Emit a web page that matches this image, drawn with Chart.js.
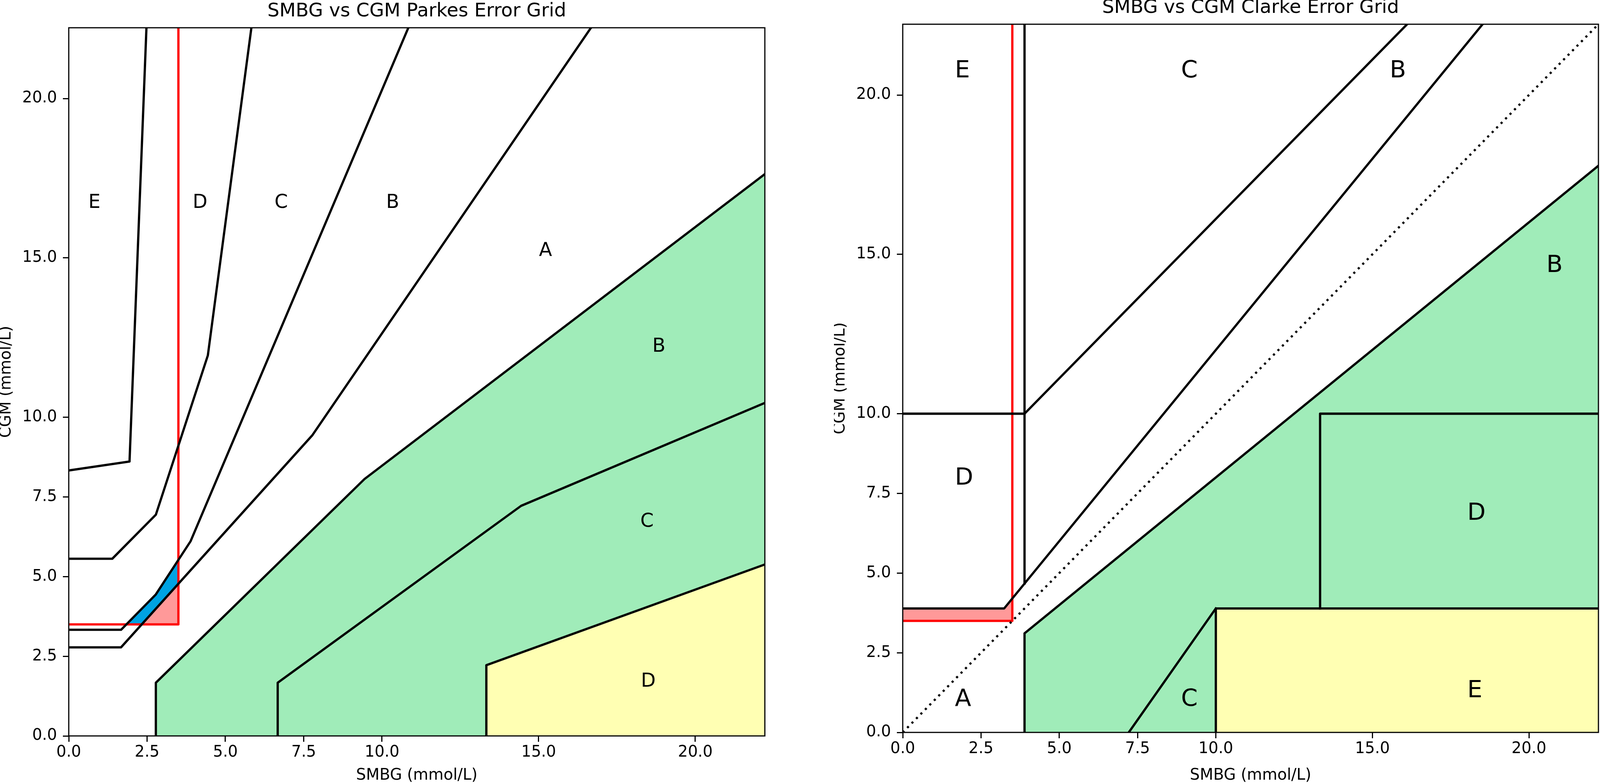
<!DOCTYPE html>
<html>
<head>
<meta charset="utf-8">
<script src="https://cdn.jsdelivr.net/npm/chart.js@4.4.1/dist/chart.umd.min.js"></script>
<style>
  html, body { margin: 0; padding: 0; background: #ffffff; overflow: hidden; }
  canvas { position: absolute; }
</style>
</head>
<body>
<canvas id="parkes"></canvas>
<canvas id="clarke"></canvas>
<script>
// ---------------- data (mmol/L) ----------------
const AXIS_MAX = 22.22;
const tickValues = [0, 2.5, 5, 7.5, 10, 15, 20];
const tickLabels = ['0.0', '2.5', '5.0', '7.5', '10.0', '15.0', '20.0'];

// Parkes error grid zone boundaries
const parkesDUpperX = [0, 1.94, 2.48];
const parkesDUpperY = [8.33, 8.61, 22.22];
const parkesCUpperX = [0, 1.39, 2.78, 4.44, 5.83];
const parkesCUpperY = [5.56, 5.56, 6.94, 11.94, 22.22];
const parkesBUpperX = [0, 1.67, 2.78, 3.89, 10.84];
const parkesBUpperY = [3.33, 3.33, 4.44, 6.11, 22.22];
const parkesAUpperX = [0, 1.67, 7.78, 16.67];
const parkesAUpperY = [2.78, 2.78, 9.44, 22.22];
const parkesALowerX = [2.78, 2.78, 9.44, 22.22];
const parkesALowerY = [0, 1.67, 8.06, 17.63];
const parkesBLowerX = [6.67, 6.67, 14.44, 22.22];
const parkesBLowerY = [0, 1.67, 7.22, 10.45];
const parkesCLowerX = [13.33, 13.33, 22.22];
const parkesCLowerY = [0, 2.22, 5.38];
// hypoglycaemia threshold (red) and highlighted areas
const hypoLineX = [0, 3.5, 3.5];
const hypoLineY = [3.5, 3.5, 22.22];
const hypoLevel = 3.5;
const parkesBlueX = [1.84, 2.78, 3.5];
const parkesBlueY = [3.5, 4.44, 5.52];
const parkesRedX = [2.33, 3.5];
const parkesRedY = [3.5, 4.78];
// Parkes zone labels (centres)
const parkesLabelText = ['E', 'D', 'C', 'B', 'A', 'B', 'C', 'D'];
const parkesLabelX = [0.82, 4.19, 6.78, 10.34, 15.22, 18.84, 18.46, 18.5];
const parkesLabelY = [16.72, 16.72, 16.72, 16.72, 15.22, 12.21, 6.72, 1.70];

// Clarke error grid zone boundaries
const clarkeUpperAX = [0, 3.24, 18.52];
const clarkeUpperAY = [3.89, 3.89, 22.22];
const clarkeUpperCX = [0, 3.89, 16.11];
const clarkeUpperCY = [10, 10, 22.22];
const clarkeVertX = [3.89, 3.89];
const clarkeVertY = [4.67, 22.22];
const clarkeLowerAX = [3.89, 3.89, 22.22];
const clarkeLowerAY = [0, 3.11, 17.78];
const clarkeLowerCX = [7.22, 10];
const clarkeLowerCY = [0, 3.89];
const clarkeZoneEX = [10, 10, 22.22];
const clarkeZoneEY = [0, 3.89, 3.89];
const clarkeZoneDX = [13.33, 13.33, 22.22];
const clarkeZoneDY = [3.89, 10, 10];
const clarkeIdentityX = [0, 22.22];
const clarkeIdentityY = [0, 22.22];
const clarkeRedX = [0, 3.24, 3.5];
const clarkeRedY = [3.89, 3.89, 4.2];
// Clarke zone labels (left / baseline anchors)
const clarkeLabelText = ['A', 'B', 'B', 'C', 'C', 'D', 'D', 'E', 'E'];
const clarkeLabelX = [1.667, 20.556, 15.556, 8.889, 8.889, 1.667, 18.03, 1.667, 18.03];
const clarkeLabelY = [0.833, 14.444, 20.556, 20.556, 0.833, 7.778, 6.667, 20.556, 1.10];

// ---------------- layout (fits the reference 4165 x 2006 frame into the real viewport) ----------------
const REF_W = 4165, REF_H = 2006;
const SX = Math.min(1, (window.innerWidth || REF_W) / REF_W);
const PAGE_W = Math.round(REF_W * SX);
document.body.style.width = PAGE_W + 'px';
document.body.style.height = REF_H + 'px';

const CANVAS_W = Math.round(1994 * SX);
const YBOX_W = Math.round(179 * SX);
const LEFT_PAD_RIGHT = Math.max(1, Math.round(3 * SX));
const RIGHT_PAD_RIGHT = Math.max(1, Math.round(4 * SX));
const CLARKE_LEFT = Math.round(2171 * SX);

function setupCanvas(id, left, top, w, h) {
  const c = document.getElementById(id);
  c.width = w; c.height = h;
  c.style.width = w + 'px'; c.style.height = h + 'px';
  c.style.left = left + 'px'; c.style.top = top + 'px';
  return c;
}
const parkesCanvas = setupCanvas('parkes', 0, 0, CANVAS_W, 2006);
const clarkeCanvas = setupCanvas('clarke', CLARKE_LEFT, -9, CANVAS_W, 2015);

// ---------------- styling ----------------
const FONT = '"DejaVu Sans", "Liberation Sans", sans-serif';
const LW = 5.8;
const GREEN = 'rgb(160,236,185)';
const YELLOW = 'rgb(255,255,179)';
const PINK = 'rgb(255,153,153)';
const BLUE = 'rgb(0,162,226)';
const RED = 'rgb(255,0,0)';
const NONE = 'rgba(0,0,0,0)';

Chart.defaults.font.family = FONT;
Chart.defaults.color = '#000';

const pts = (xs, ys) => xs.map((x, i) => ({ x: x, y: ys[i] }));

function lineDs(xs, ys, extra) {
  return Object.assign({
    data: pts(xs, ys),
    borderColor: '#000',
    backgroundColor: NONE,
    borderWidth: LW,
    borderJoinStyle: 'round',
    borderCapStyle: 'square',
    pointRadius: 0,
    pointHoverRadius: 0,
    fill: false,
    tension: 0,
    clip: 0
  }, extra || {});
}

const framePlugin = {
  id: 'frame',
  afterDatasetsDraw(chart) {
    const { ctx, chartArea: a } = chart;
    ctx.save();
    ctx.strokeStyle = '#000';
    ctx.lineWidth = 3;
    ctx.strokeRect(a.left, a.top, a.right - a.left, a.bottom - a.top);
    ctx.restore();
  }
};

function labelPlugin(texts, xs, ys, size, align, baseline) {
  return {
    id: 'zoneLabels',
    afterDatasetsDraw(chart) {
      const { ctx } = chart;
      const sx = chart.scales.x, sy = chart.scales.y;
      ctx.save();
      ctx.fillStyle = '#000';
      ctx.font = size + 'px ' + FONT;
      ctx.textAlign = align;
      ctx.textBaseline = baseline;
      texts.forEach((t, i) => ctx.fillText(t, sx.getPixelForValue(xs[i]), sy.getPixelForValue(ys[i])));
      ctx.restore();
    }
  };
}

function axis(titleText, isX, boxSize) {
  return {
    type: 'linear',
    min: 0,
    max: AXIS_MAX,
    afterBuildTicks: s => { s.ticks = tickValues.map(v => ({ value: v })); },
    afterFit: s => { if (isX) { s.height = boxSize; } else { s.width = boxSize; } },
    ticks: {
      autoSkip: false, maxRotation: 0, minRotation: 0,
      padding: isX ? 4 : 15,
      color: '#000',
      font: { size: 40 },
      callback: (v, i) => tickLabels[i]
    },
    grid: {
      drawOnChartArea: false, drawTicks: true,
      tickLength: 15, tickWidth: 3, tickColor: '#000', color: '#000'
    },
    border: { display: false },
    title: {
      display: true, text: titleText, color: '#000',
      font: { size: 40, lineHeight: isX ? 1.05 : 0.85 },
      padding: 0
    }
  };
}

function baseOptions(titleText, xBox, rightPad) {
  return {
    responsive: false,
    maintainAspectRatio: false,
    devicePixelRatio: 1,
    animation: false,
    events: [],
    layout: { padding: { left: 0, right: rightPad, top: 0, bottom: 0 } },
    plugins: {
      legend: { display: false },
      tooltip: { enabled: false },
      filler: { drawTime: 'beforeDatasetsDraw' },
      title: {
        display: true, text: titleText, color: '#000', fullSize: false,
        font: { size: 48.5, weight: 'normal', lineHeight: 1.0 },
        padding: { top: 5.6, bottom: 16.9 }
      }
    },
    scales: {
      x: axis('SMBG (mmol/L)', true, xBox),
      y: axis('CGM (mmol/L)', false, YBOX_W)
    }
  };
}

// ---------------- Parkes chart ----------------
new Chart(parkesCanvas, {
  type: 'line',
  data: {
    datasets: [
      lineDs(parkesRedX, parkesRedY, { borderColor: NONE, backgroundColor: PINK, fill: { value: hypoLevel } }),
      lineDs(parkesBlueX, parkesBlueY, { borderColor: NONE, backgroundColor: BLUE, fill: { value: hypoLevel } }),
      lineDs(parkesCLowerX, parkesCLowerY, { backgroundColor: YELLOW, fill: 'origin' }),
      lineDs(parkesBLowerX, parkesBLowerY),
      lineDs(parkesALowerX, parkesALowerY, { backgroundColor: GREEN, fill: 'origin' }),
      lineDs(parkesAUpperX, parkesAUpperY),
      lineDs(parkesBUpperX, parkesBUpperY),
      lineDs(parkesCUpperX, parkesCUpperY),
      lineDs(parkesDUpperX, parkesDUpperY),
      lineDs(hypoLineX, hypoLineY, { borderColor: RED })
    ]
  },
  options: baseOptions('SMBG vs CGM Parkes Error Grid', 123, LEFT_PAD_RIGHT),
  plugins: [framePlugin, labelPlugin(parkesLabelText, parkesLabelX, parkesLabelY, 49, 'center', 'middle')]
});

// ---------------- Clarke chart ----------------
new Chart(clarkeCanvas, {
  type: 'line',
  data: {
    datasets: [
      lineDs(clarkeRedX, clarkeRedY, { borderColor: NONE, backgroundColor: PINK, fill: { value: hypoLevel } }),
      lineDs(clarkeZoneEX, clarkeZoneEY, { backgroundColor: YELLOW, fill: 'origin' }),
      lineDs(clarkeLowerAX, clarkeLowerAY, { backgroundColor: GREEN, fill: 'origin' }),
      lineDs(clarkeUpperAX, clarkeUpperAY),
      lineDs(clarkeUpperCX, clarkeUpperCY),
      lineDs(clarkeVertX, clarkeVertY),
      lineDs(clarkeLowerCX, clarkeLowerCY),
      lineDs(clarkeZoneDX, clarkeZoneDY),
      lineDs(clarkeIdentityX, clarkeIdentityY, { borderWidth: 5.5, borderDash: [5.5, 10.8], borderCapStyle: 'butt' }),
      lineDs(hypoLineX, hypoLineY, { borderColor: RED })
    ]
  },
  options: baseOptions('SMBG vs CGM Clarke Error Grid', 132, RIGHT_PAD_RIGHT),
  plugins: [framePlugin, labelPlugin(clarkeLabelText, clarkeLabelX, clarkeLabelY, 61, 'left', 'alphabetic')]
});
</script>
</body>
</html>
